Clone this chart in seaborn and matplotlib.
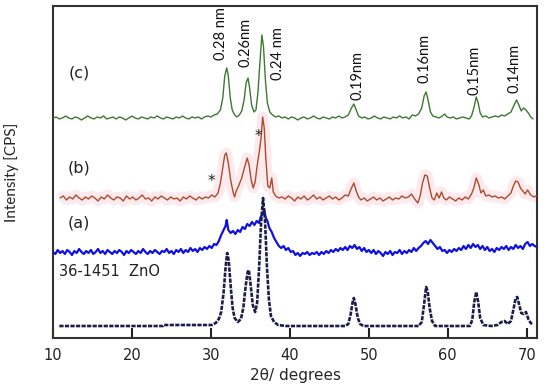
import numpy as np
import pandas as pd
import seaborn as sns
import matplotlib.pyplot as plt

# (c) green pattern
c_2theta = [10.0, 10.4, 10.8, 11.2, 11.6, 12.0, 12.4, 12.8, 13.2, 13.6, 14.0, 14.4, 14.8, 15.2, 15.6,
            16.0, 16.4, 16.8, 17.2, 17.6, 18.0, 18.4, 18.8, 19.2, 19.6, 20.0, 20.4, 20.8, 21.2, 21.6,
            22.0, 22.4, 22.8, 23.2, 23.6, 24.0, 24.4, 24.8, 25.2, 25.6, 26.0, 26.4, 26.8, 27.2, 27.6,
            28.0, 28.4, 28.8, 29.2, 29.6, 30.0, 30.4, 30.8, 31.2, 31.5, 31.75, 32.0, 32.2, 32.45, 32.7,
            33.0, 33.3, 33.6, 33.9, 34.2, 34.45, 34.7, 34.9, 35.15, 35.45, 35.7, 35.95, 36.2, 36.45, 36.65,
            36.9, 37.15, 37.45, 37.8, 38.2, 38.6, 39.0, 39.4, 39.8, 40.2, 40.6, 41.0, 41.4, 41.8, 42.2,
            42.6, 43.0, 43.4, 43.8, 44.2, 44.6, 45.0, 45.4, 45.8, 46.2, 46.6, 47.0, 47.4, 47.8, 48.1,
            48.4, 48.7, 49.1, 49.5, 49.9, 50.3, 50.7, 51.1, 51.5, 51.9, 52.3, 52.7, 53.1, 53.5, 53.9,
            54.3, 54.7, 55.1, 55.5, 55.9, 56.3, 56.7, 57.0, 57.25, 57.5, 57.8, 58.1, 58.5, 58.9, 59.3,
            59.6, 59.9, 60.3, 60.7, 61.1, 61.5, 61.9, 62.3, 62.7, 63.0, 63.3, 63.6, 63.85, 64.1, 64.4,
            64.8, 65.2, 65.6, 66.0, 66.4, 66.8, 67.2, 67.6, 68.0, 68.4, 68.7, 69.0, 69.3, 69.6, 69.9,
            70.2, 70.5, 70.8]
c_counts = [220, 221, 219, 220, 222, 220, 219, 221, 220, 218, 220, 222, 220, 219, 221,
            220, 222, 219, 220, 221, 219, 221, 220, 218, 220, 222, 220, 219, 221, 220,
            219, 221, 220, 222, 220, 219, 221, 220, 219, 221, 220, 222, 220, 219, 221,
            220, 221, 219, 221, 222, 221, 223, 224, 228, 240, 262, 270, 262, 240, 228,
            223, 221, 223, 227, 238, 255, 260, 250, 233, 226, 228, 245, 275, 303, 292,
            258, 235, 226, 223, 221, 222, 220, 221, 219, 221, 220, 218, 220, 221, 219,
            220, 222, 220, 219, 221, 220, 219, 221, 220, 222, 220, 221, 223, 230, 234,
            228, 222, 220, 221, 219, 220, 222, 220, 219, 221, 220, 219, 221, 220, 222,
            220, 221, 219, 223, 222, 224, 230, 242, 246, 238, 226, 222, 221, 220, 222,
            224, 221, 220, 221, 219, 220, 221, 220, 219, 222, 230, 241, 235, 225, 221,
            222, 220, 221, 222, 221, 223, 222, 224, 226, 233, 238, 233, 227, 230, 228,
            225, 221, 219]

# (b) red pattern
b_2theta = [10.9, 11.3, 11.7, 12.1, 12.5, 12.9, 13.3, 13.7, 14.1, 14.5, 14.9, 15.3, 15.7, 16.1, 16.5,
            16.9, 17.3, 17.7, 18.1, 18.5, 18.9, 19.3, 19.7, 20.1, 20.5, 20.9, 21.3, 21.7, 22.1, 22.5,
            22.9, 23.3, 23.7, 24.1, 24.5, 24.9, 25.3, 25.7, 26.1, 26.5, 26.9, 27.3, 27.7, 28.1, 28.5,
            28.9, 29.3, 29.7, 30.1, 30.5, 30.9, 31.2, 31.5, 31.75, 31.95, 32.2, 32.5, 32.8, 33.0, 33.2,
            33.5, 33.9, 34.3, 34.6, 34.85, 35.1, 35.35, 35.6, 35.85, 36.1, 36.35, 36.55, 36.75, 36.95, 37.2,
            37.45, 37.7, 37.9, 38.2, 38.6, 39.0, 39.4, 39.8, 40.2, 40.6, 41.0, 41.4, 41.8, 42.2, 42.6,
            43.0, 43.4, 43.8, 44.2, 44.6, 45.0, 45.4, 45.8, 46.2, 46.6, 47.0, 47.4, 47.8, 48.1, 48.4,
            48.7, 49.0, 49.4, 49.8, 50.2, 50.6, 51.0, 51.4, 51.8, 52.2, 52.6, 53.0, 53.4, 53.8, 54.2,
            54.6, 55.0, 55.4, 55.8, 56.2, 56.5, 56.8, 57.1, 57.4, 57.7, 58.0, 58.3, 58.6, 58.9, 59.2,
            59.5, 59.8, 60.2, 60.6, 61.0, 61.4, 61.8, 62.2, 62.6, 63.0, 63.3, 63.6, 63.9, 64.2, 64.5,
            64.8, 65.2, 65.6, 66.0, 66.4, 66.8, 67.2, 67.6, 68.0, 68.3, 68.6, 68.9, 69.2, 69.5, 69.8,
            70.1, 70.5, 70.9, 71.2]
b_counts = [140, 142, 138, 141, 139, 143, 140, 138, 141, 139, 142, 140, 137, 141, 139,
            143, 140, 138, 141, 140, 137, 142, 139, 141, 138, 140, 143, 139, 140, 137,
            141, 139, 142, 140, 138, 141, 139, 140, 137, 141, 139, 142, 140, 138, 141,
            139, 141, 140, 143, 141, 145, 155, 170, 183, 185, 175, 158, 146, 141, 147,
            152, 160, 172, 180, 172, 158, 150, 156, 172, 185, 200, 221, 210, 180, 152,
            150, 160, 146, 142, 140, 141, 139, 142, 140, 137, 141, 139, 142, 138, 140,
            143, 139, 141, 138, 140, 142, 139, 141, 138, 140, 143, 142, 150, 155, 147,
            141, 138, 140, 137, 139, 141, 138, 140, 137, 139, 141, 138, 140, 139, 142,
            140, 141, 144, 139, 135, 142, 155, 163, 162, 150, 140, 138, 145, 140, 146,
            140, 138, 141, 139, 137, 140, 138, 141, 139, 144, 150, 160, 154, 145, 148,
            142, 143, 141, 142, 140, 141, 139, 142, 145, 152, 157, 156, 150, 147, 144,
            148, 143, 141, 142]

# (a) blue pattern
a_2theta = [10.0, 10.3, 10.6, 10.9, 11.2, 11.5, 11.8, 12.1, 12.4, 12.7, 13.0, 13.3, 13.6, 13.9, 14.2,
            14.5, 14.8, 15.1, 15.4, 15.7, 16.0, 16.3, 16.6, 16.9, 17.2, 17.5, 17.8, 18.1, 18.4, 18.7,
            19.0, 19.3, 19.6, 19.9, 20.2, 20.5, 20.8, 21.1, 21.4, 21.7, 22.0, 22.3, 22.6, 22.9, 23.2,
            23.5, 23.8, 24.1, 24.4, 24.7, 25.0, 25.3, 25.6, 25.9, 26.2, 26.5, 26.8, 27.1, 27.4, 27.7,
            28.0, 28.3, 28.6, 28.9, 29.2, 29.5, 29.8, 30.1, 30.4, 30.7, 31.0, 31.3, 31.6, 31.85, 32.0,
            32.2, 32.5, 32.8, 33.1, 33.4, 33.7, 34.0, 34.3, 34.6, 34.9, 35.2, 35.5, 35.8, 36.1, 36.3,
            36.55, 36.75, 36.95, 37.15, 37.4, 37.7, 38.0, 38.3, 38.6, 38.9, 39.2, 39.5, 39.8, 40.1, 40.4,
            40.7, 41.0, 41.3, 41.6, 41.9, 42.2, 42.5, 42.8, 43.1, 43.4, 43.7, 44.0, 44.3, 44.6, 44.9,
            45.2, 45.5, 45.8, 46.1, 46.4, 46.7, 47.0, 47.3, 47.6, 47.9, 48.2, 48.5, 48.8, 49.1, 49.4,
            49.7, 50.0, 50.3, 50.6, 50.9, 51.2, 51.5, 51.8, 52.1, 52.4, 52.7, 53.0, 53.3, 53.6, 53.9,
            54.2, 54.5, 54.8, 55.1, 55.4, 55.7, 56.0, 56.3, 56.6, 56.9, 57.2, 57.5, 57.8, 58.1, 58.4,
            58.7, 59.0, 59.3, 59.6, 59.9, 60.2, 60.5, 60.8, 61.1, 61.4, 61.7, 62.0, 62.3, 62.6, 62.9,
            63.2, 63.5, 63.8, 64.1, 64.4, 64.7, 65.0, 65.3, 65.6, 65.9, 66.2, 66.5, 66.8, 67.1, 67.4,
            67.7, 68.0, 68.3, 68.6, 68.9, 69.2, 69.5, 69.8, 70.1, 70.4, 70.7, 71.0, 71.3]
a_counts = [86, 84, 88, 85, 87, 84, 88, 86, 83, 87, 85, 89, 86, 84, 87,
            85, 88, 84, 86, 89, 85, 87, 84, 88, 86, 84, 87, 85, 88, 86,
            83, 87, 85, 88, 86, 84, 87, 85, 89, 86, 84, 87, 85, 88, 86,
            84, 87, 86, 89, 85, 87, 84, 88, 86, 89, 85, 88, 86, 90, 87,
            89, 86, 90, 88, 91, 89, 92, 90, 94, 93, 97, 103, 108, 112, 118,
            108, 105, 107, 104, 108, 106, 111, 109, 114, 112, 116, 113, 117, 115, 121,
            124, 128, 120, 117, 110, 106, 100, 96, 92, 90, 92, 88, 90, 86, 87,
            83, 85, 82, 85, 84, 86, 83, 85, 84, 86, 83, 86, 84, 87, 85,
            88, 86, 89, 87, 90, 88, 91, 88, 92, 90, 93, 89, 91, 87, 90,
            86, 88, 85, 88, 84, 87, 85, 82, 86, 84, 87, 83, 86, 85, 88,
            84, 87, 85, 88, 86, 90, 87, 90, 92, 95, 97, 94, 98, 95, 92,
            89, 91, 87, 88, 85, 88, 86, 89, 87, 90, 88, 92, 89, 93, 90,
            94, 91, 93, 89, 92, 88, 91, 87, 89, 86, 90, 88, 91, 89, 92,
            88, 91, 89, 93, 90, 92, 89, 94, 96, 92, 94, 92, 91]

# 36-1451 ZnO reference pattern
ref_2theta = [10.8, 23.9, 24.0, 30.1, 30.6, 31.0, 31.3, 31.6, 31.85, 32.05, 32.25, 32.5, 32.75, 33.0,
              33.4, 33.8, 34.1, 34.4, 34.65, 34.8, 35.0, 35.3, 35.6, 35.85, 36.1, 36.35, 36.6, 36.85,
              37.1, 37.35, 37.6, 38.0, 38.5, 39.5, 47.0, 47.4, 47.7, 47.95, 48.1, 48.3, 48.6, 48.9,
              49.3, 56.3, 56.7, 57.0, 57.25, 57.45, 57.7, 58.0, 58.4, 62.8, 63.1, 63.35, 63.6, 63.85,
              64.1, 64.5, 65.5, 66.3, 66.8, 67.2, 67.6, 68.0, 68.3, 68.6, 68.8, 69.05, 69.3, 69.6,
              69.9, 70.2, 70.5, 70.8]
ref_counts = [12, 12, 13, 13, 15, 19, 26, 45, 70, 85, 78, 52, 30, 20,
              16, 19, 30, 52, 66, 68, 55, 33, 26, 35, 70, 115, 140, 118,
              70, 38, 22, 16, 13, 12, 12, 14, 24, 36, 40, 34, 20, 14,
              12, 12, 16, 34, 51, 47, 30, 17, 12, 12, 18, 36, 46, 36,
              20, 13, 12, 13, 16, 17, 14, 17, 28, 40, 41, 33, 25, 24,
              26, 19, 15, 13]

# d-spacing labels above the peaks
d_labels = ["0.28 nm", "0.26nm", "0.24 nm", "0.19nm", "0.16nm", "0.15nm", "0.14nm"]
d_pos = [31.3, 34.4, 38.5, 48.5, 57.1, 63.4, 68.5]
d_base = [278, 271, 258, 238, 255, 243, 245]

sns.set_theme(style="ticks")
plt.rcParams['font.family'] = ['DejaVu Sans']

fig = plt.figure(figsize=(5.5, 3.87), dpi=100)
ax = fig.add_axes([0.0964, 0.1266, 0.88, 0.858])

# pale pink highlight behind trace (b)
ax.plot(b_2theta, b_counts, color="#fdeaee", lw=8, solid_capstyle="butt", zorder=1)

sns.lineplot(x=c_2theta, y=c_counts, ax=ax, color="#3b7a30", lw=1.0, zorder=3)
sns.lineplot(x=b_2theta, y=b_counts, ax=ax, color="#b04a28", lw=1.0, zorder=3)
sns.lineplot(x=a_2theta, y=a_counts, ax=ax, color="#1010e0", lw=1.6, zorder=3)
sns.lineplot(x=ref_2theta, y=ref_counts, ax=ax, color="#1c1c4a", lw=1.9,
             dashes=False, zorder=3).lines[-1].set_dashes([1.6, 0.5])

for lab, xp, yb in zip(d_labels, d_pos, d_base):
    ax.text(xp, yb, lab, rotation=90, ha="center", va="bottom", fontsize=10.5,
            family="Lato", color="#111111")

ax.text(13.3, 265, "(c)", fontsize=11.5, ha="center", va="center", color="#222222")
ax.text(13.3, 170, "(b)", fontsize=11.5, ha="center", va="center", color="#222222")
ax.text(13.3, 115, "(a)", fontsize=11.5, ha="center", va="center", color="#222222")
ax.text(10.75, 66, "36-1451  ZnO", fontsize=10.5, ha="left", va="center", color="#222222")
ax.text(30.1, 156, "*", fontsize=11, ha="center", va="center", color="#222222")
ax.text(36.0, 201, "*", fontsize=11, ha="center", va="center", color="#222222")

ax.set_xlim(10, 71.3)
ax.set_ylim(0, 332)
ax.set_xticks([10, 20, 30, 40, 50, 60, 70])
ax.set_yticks([])
ax.tick_params(axis="x", direction="in", length=7, width=1.5, pad=7, labelsize=10.5,
               colors="#222222")
for s in ax.spines.values():
    s.set_linewidth(1.5)
    s.set_color("#333333")

ax.set_xlabel("2θ/ degrees", fontsize=11)
ax.xaxis.set_label_coords(0.5, -0.09)
ax.set_ylabel("Intensity [CPS]", fontsize=11, family="Lato")
ax.yaxis.set_label_coords(-0.07, 0.5)

fig.savefig("out.png", dpi=100)
